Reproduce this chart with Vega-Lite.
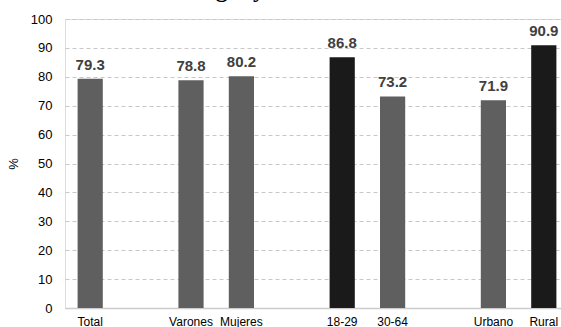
{
  "$schema": "https://vega.github.io/schema/vega-lite/v6.json",
  "autosize": {"type": "none"},
  "padding": {"left": 65, "top": 19, "right": 0, "bottom": 19},
  "width": 496,
  "height": 289,
  "background": "white",
  "title": {
    "text": "Paraguay. 2013-2014",
    "font": "Liberation Serif",
    "fontSize": 24,
    "fontWeight": "bold",
    "color": "#000000",
    "anchor": "middle",
    "frame": "group",
    "baseline": "alphabetic",
    "offset": -8,
    "dx": -40
  },
  "data": {
    "values": [
      {"cat": "Total", "value": 79.3, "grp": "g"},
      {"cat": "Varones", "value": 78.8, "grp": "g"},
      {"cat": "Mujeres", "value": 80.2, "grp": "g"},
      {"cat": "18-29", "value": 86.8, "grp": "b"},
      {"cat": "30-64", "value": 73.2, "grp": "g"},
      {"cat": "Urbano", "value": 71.9, "grp": "g"},
      {"cat": "Rural", "value": 90.9, "grp": "b"}
    ]
  },
  "encoding": {
    "x": {
      "field": "cat",
      "type": "nominal",
      "sort": null,
      "scale": {
        "domain": ["Total", "_1", "Varones", "Mujeres", "_2", "18-29", "30-64", "_3", "Urbano", "Rural"],
        "paddingInner": 0.5,
        "paddingOuter": 0.1706,
        "align": 0.7326
      },
      "axis": {
        "title": null,
        "labelAngle": 0,
        "labelExpr": "indexof(datum.value, '_') == 0 ? '' : datum.value",
        "labelFont": "Liberation Sans",
        "labelFontSize": 12,
        "labelColor": "#000000",
        "labelPadding": 8,
        "ticks": false,
        "domainColor": "#cccccc",
        "domainWidth": 1.5,
        "grid": false
      }
    },
    "y": {
      "field": "value",
      "type": "quantitative",
      "scale": {"domain": [0, 100]},
      "axis": {
        "title": "%",
        "titleFont": "Liberation Sans",
        "titleFontSize": 13,
        "titleFontWeight": "normal",
        "titleColor": "#000000",
        "titlePadding": 10,
        "values": [0, 10, 20, 30, 40, 50, 60, 70, 80, 90, 100],
        "labelFont": "Liberation Sans",
        "labelFontSize": 13,
        "labelColor": "#000000",
        "labelPadding": 13,
        "ticks": false,
        "domain": false,
        "grid": true,
        "gridColor": "#c8c8c8",
        "gridDash": [4, 3],
        "gridWidth": 1
      }
    }
  },
  "layer": [
    {
      "mark": {"type": "bar"},
      "encoding": {
        "color": {
          "field": "grp",
          "type": "nominal",
          "scale": {"domain": ["g", "b"], "range": ["#5f5f5f", "#1a1a1a"]},
          "legend": null
        }
      }
    },
    {
      "mark": {
        "type": "text",
        "dy": -9,
        "baseline": "alphabetic",
        "font": "Liberation Sans",
        "fontSize": 15,
        "fontWeight": "bold",
        "color": "#404040"
      },
      "encoding": {
        "text": {"field": "value", "type": "quantitative", "format": ".1f"}
      }
    }
  ]
}
